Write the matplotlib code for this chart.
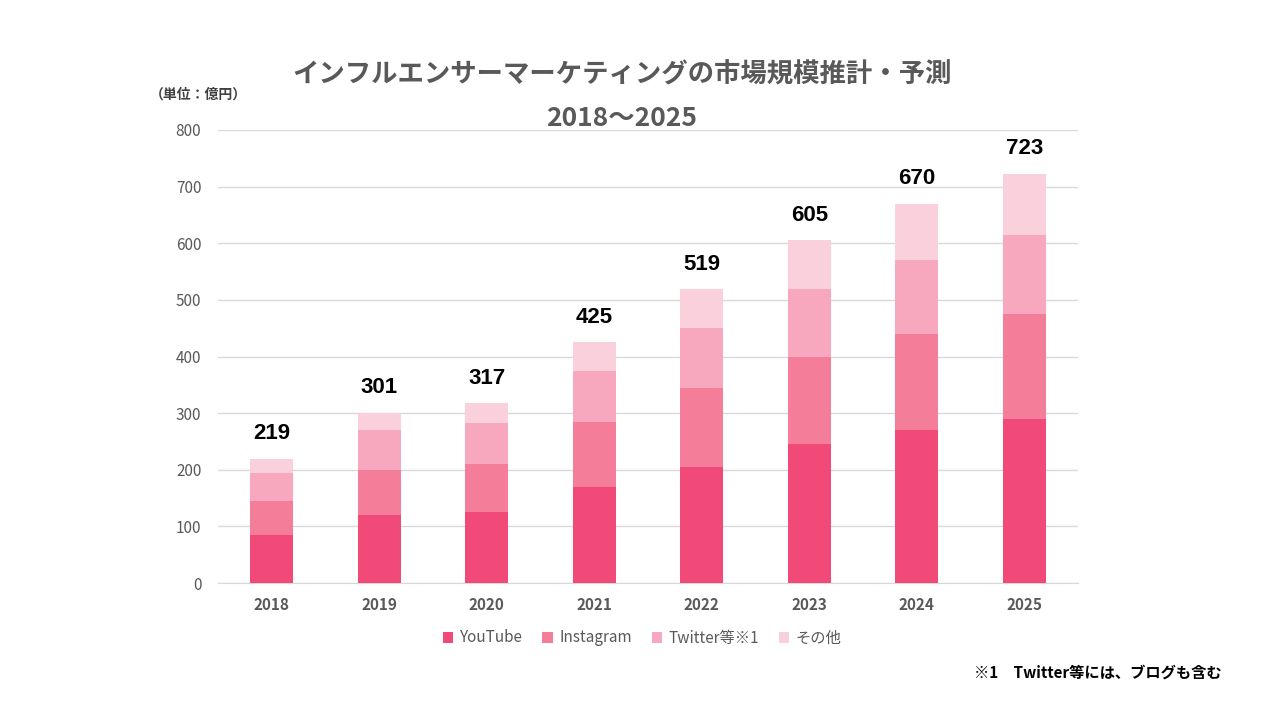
import matplotlib
matplotlib.use("Agg")
import matplotlib.pyplot as plt
import numpy as np

plt.rcParams['font.family'] = ['Noto Sans CJK JP', 'DejaVu Sans']

years = ["2018", "2019", "2020", "2021", "2022", "2023", "2024", "2025"]
youtube = [84, 120, 125, 170, 205, 245, 270, 290]
instagram = [60, 80, 85, 115, 140, 155, 170, 185]
twitter = [50, 70, 72, 90, 105, 120, 130, 140]
totals = [219, 301, 317, 425, 519, 605, 670, 723]
other = [t - a - b - c for t, a, b, c in zip(totals, youtube, instagram, twitter)]

series_names = ["YouTube", "Instagram", "Twitter等※1", "その他"]
colors = ["#F24A78", "#F47D9A", "#F7A8BE", "#FBD0DD"]

fig = plt.figure(figsize=(12.8, 7.2), dpi=100)
ax = fig.add_axes([218/1280, 1-583/720, 860/1280, 453/720])

x = np.arange(len(years))
bottom = np.zeros(len(years))
for vals, name, col in zip([youtube, instagram, twitter, other], series_names, colors):
    ax.bar(x, vals, width=0.4, bottom=bottom, color=col, label=name, zorder=3)
    bottom += np.array(vals)

for xi, t in zip(x, totals):
    ax.annotate(str(t), (xi, t), xytext=(0, 18), textcoords='offset points',
                ha='center', va='center', fontsize=16, fontweight='bold', color='black',
                family='Liberation Sans')

ax.set_xlim(-0.5, len(years) - 0.5)
ax.set_ylim(0, 800)
ax.set_yticks(range(0, 801, 100))
ax.set_xticks(x)
ax.set_xticklabels(years, fontweight='bold')
ax.tick_params(axis='both', length=0, colors='#595959', labelsize=11)
ax.tick_params(axis='x', pad=10)
ax.tick_params(axis='y', pad=12)
ax.grid(axis='y', color='#D9D9D9', linewidth=1, zorder=0)
for s in ['top', 'right', 'left']:
    ax.spines[s].set_visible(False)
ax.spines['bottom'].set_color('#D9D9D9')

fig.text(622/1280, 1-75/720, "インフルエンサーマーケティングの市場規模推計・予測", ha='center', va='center',
         fontsize=19, fontweight='bold', color='#595959')
fig.text(622/1280, 1-118/720, "2018～2025", ha='center', va='center',
         fontsize=19, fontweight='bold', color='#595959')
fig.text(150/1280, 1-95/720, "（単位：億円）", ha='left', va='center', fontsize=10, fontweight='bold', color='#404040')

leg = fig.legend(loc='center', bbox_to_anchor=(642/1280, 1-638/720), ncol=4, frameon=False,
                 fontsize=11, handlelength=0.7, handleheight=0.7, handletextpad=0.4, columnspacing=1.3)
for t in leg.get_texts():
    t.set_color('#595959')

fig.text(1222/1280, 1-673/720, "※1　Twitter等には、ブログも含む", ha='right', va='center',
         fontsize=11, fontweight='bold', color='black')

fig.savefig("out.png", dpi=100)
